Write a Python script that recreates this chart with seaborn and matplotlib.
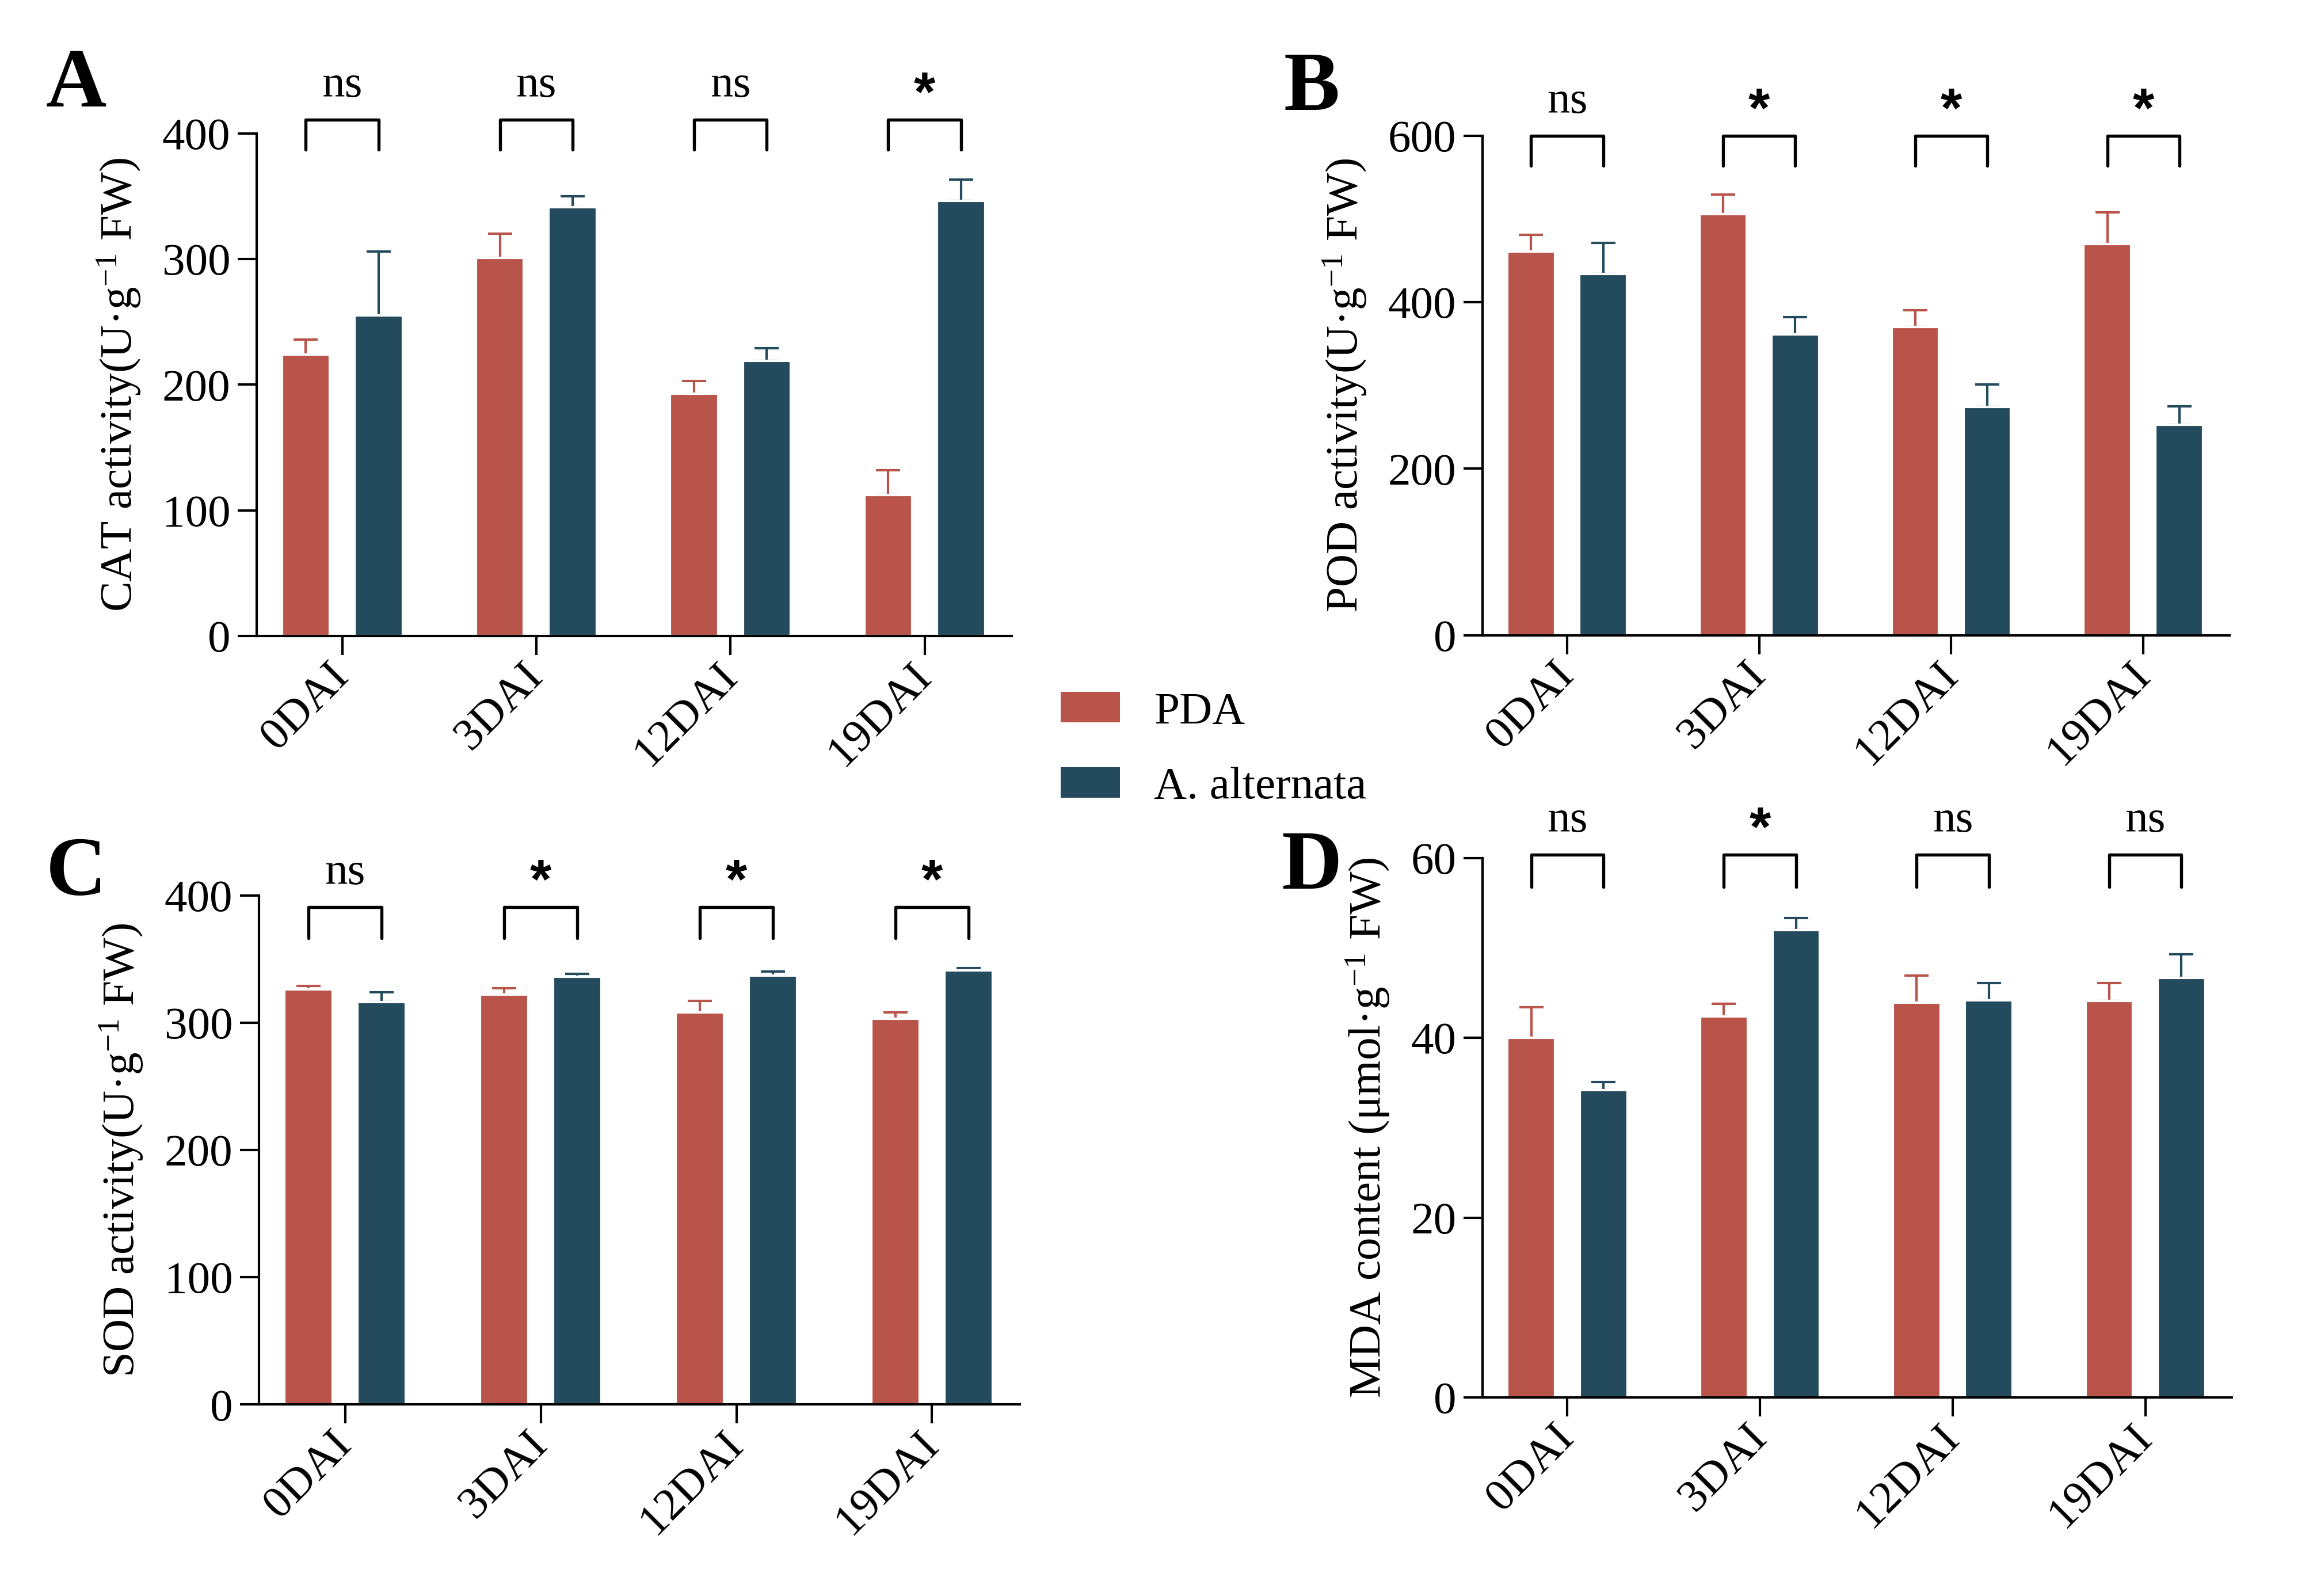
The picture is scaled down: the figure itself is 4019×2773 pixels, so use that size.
import numpy as np
import pandas as pd
import matplotlib
matplotlib.use("Agg")
import matplotlib.pyplot as plt
from matplotlib.patches import Patch
import seaborn as sns

# data
stages = ["0DAI", "3DAI", "12DAI", "19DAI"]
groups = ["PDA", "A. alternata"]

cat_pda = [224, 301, 193, 112]
cat_pda_err = [12, 19, 10, 20]
cat_alt = [255, 341, 219, 346]
cat_alt_err = [51, 9, 10, 17]
cat_sig = ["ns", "ns", "ns", "*"]

pod_pda = [461, 506, 370, 470]
pod_pda_err = [20, 23, 20, 38]
pod_alt = [434, 361, 274, 253]
pod_alt_err = [37, 21, 27, 22]
pod_sig = ["ns", "*", "*", "*"]

sod_pda = [326, 322, 308, 303]
sod_pda_err = [3, 5, 9, 5]
sod_alt = [316, 336, 337, 341]
sod_alt_err = [8, 2.5, 3, 2]
sod_sig = ["ns", "*", "*", "*"]

mda_pda = [40.0, 42.4, 43.9, 44.1]
mda_pda_err = [3.4, 1.4, 3.0, 2.0]
mda_alt = [34.2, 52.0, 44.2, 46.7]
mda_alt_err = [0.9, 1.3, 1.9, 2.6]
mda_sig = ["ns", "*", "ns", "ns"]

colors = ["#B9544A", "#234A5D"]

sns.set_style("ticks")
plt.rcParams["font.family"] = ["Liberation Serif", "DejaVu Serif"]
plt.rcParams["mathtext.fontset"] = "custom"
plt.rcParams["mathtext.rm"] = "Liberation Serif"
plt.rcParams["mathtext.it"] = "Liberation Serif:italic"
plt.rcParams["axes.linewidth"] = 1.0
for key in ["text.color", "axes.labelcolor", "xtick.color", "ytick.color", "axes.edgecolor"]:
    plt.rcParams[key] = "black"


def draw_panel(ax, pda, pda_err, alt, alt_err, sig, ylabel, ymax, ystep, br_top, br_bot):
    df = pd.DataFrame({
        "stage": stages * 2,
        "group": [groups[0]] * len(stages) + [groups[1]] * len(stages),
        "value": pda + alt,
    })
    sns.barplot(data=df, x="stage", y="value", hue="group", order=stages,
                hue_order=groups, palette=colors, saturation=1, width=0.75,
                gap=0.34, errorbar=None, legend=False, ax=ax)

    bars = list(ax.containers)
    centers = []
    for cont, err, col in zip(bars, [pda_err, alt_err], colors):
        xs = [p.get_x() + p.get_width() / 2 for p in cont]
        ys = [p.get_height() for p in cont]
        centers.append(xs)
        ax.errorbar(xs, ys, yerr=[np.zeros(len(err)), err], fmt="none",
                    ecolor=col, elinewidth=1.0, capsize=5, capthick=1.0, zorder=0.5)

    # significance brackets
    for i, s in enumerate(sig):
        x1, x2 = centers[0][i], centers[1][i]
        ax.plot([x1, x1, x2, x2], [br_bot, br_top, br_top, br_bot],
                color="black", lw=1.3, clip_on=False)
        if s == "*":
            ax.annotate(s, xy=((x1 + x2) / 2, br_top), xytext=(0, 10),
                        textcoords="offset points", ha="center", va="center",
                        fontsize=23, fontweight="bold", family="Liberation Sans",
                        annotation_clip=False)
        else:
            ax.annotate(s, xy=((x1 + x2) / 2, br_top), xytext=(0, 14),
                        textcoords="offset points", ha="center", va="center",
                        fontsize=19, annotation_clip=False)

    ax.set_ylim(0, ymax)
    ax.set_yticks(np.arange(0, ymax + ystep / 2, ystep))
    ax.set_xlim(-0.44, 3.45)
    ax.set_xlabel("")
    ax.set_ylabel(ylabel, fontsize=19, labelpad=8)
    ax.tick_params(axis="both", labelsize=19, length=8, width=1.0, pad=3)
    ax.tick_params(axis="x", pad=6)
    plt.setp(ax.get_xticklabels(), rotation=45, ha="right", va="center",
             rotation_mode="anchor")
    sns.despine(ax=ax)


fig = plt.figure(figsize=(4019 / 300, 2773 / 300), dpi=300)
axA = fig.add_axes([0.111, 0.6015, 0.3265, 0.315])
axB = fig.add_axes([0.641, 0.602, 0.323, 0.313])
axC = fig.add_axes([0.112, 0.120, 0.329, 0.319])
axD = fig.add_axes([0.641, 0.1244, 0.324, 0.338])

draw_panel(axA, cat_pda, cat_pda_err, cat_alt, cat_alt_err, cat_sig,
           "CAT activity(U·g$^{-1}$ FW)", 400, 100, 411, 387)
draw_panel(axB, pod_pda, pod_pda_err, pod_alt, pod_alt_err, pod_sig,
           "POD activity(U·g$^{-1}$ FW)", 600, 200, 600, 563.6)
draw_panel(axC, sod_pda, sod_pda_err, sod_alt, sod_alt_err, sod_sig,
           "SOD activity(U·g$^{-1}$ FW)", 400, 100, 390.8, 366.6)
draw_panel(axD, mda_pda, mda_pda_err, mda_alt, mda_alt_err, mda_sig,
           "MDA content (μmol·g$^{-1}$ FW)", 60, 20, 60.4, 56.8)

for letter, (lx, ly) in zip("ABCD", [(0.033, 0.946), (0.567, 0.944),
                                     (0.033, 0.452), (0.567, 0.456)]):
    fig.text(lx, ly, letter, fontsize=35, fontweight="bold", ha="center", va="center")

handles = [Patch(facecolor=c, edgecolor="none") for c in colors]
fig.legend(handles, groups, loc="center left", bbox_to_anchor=(0.4586, 0.530),
           frameon=False, fontsize=19, handlelength=1.3, handleheight=0.65,
           handletextpad=0.75, labelspacing=0.75, borderpad=0, borderaxespad=0)

fig.savefig("out.png", dpi=300)
